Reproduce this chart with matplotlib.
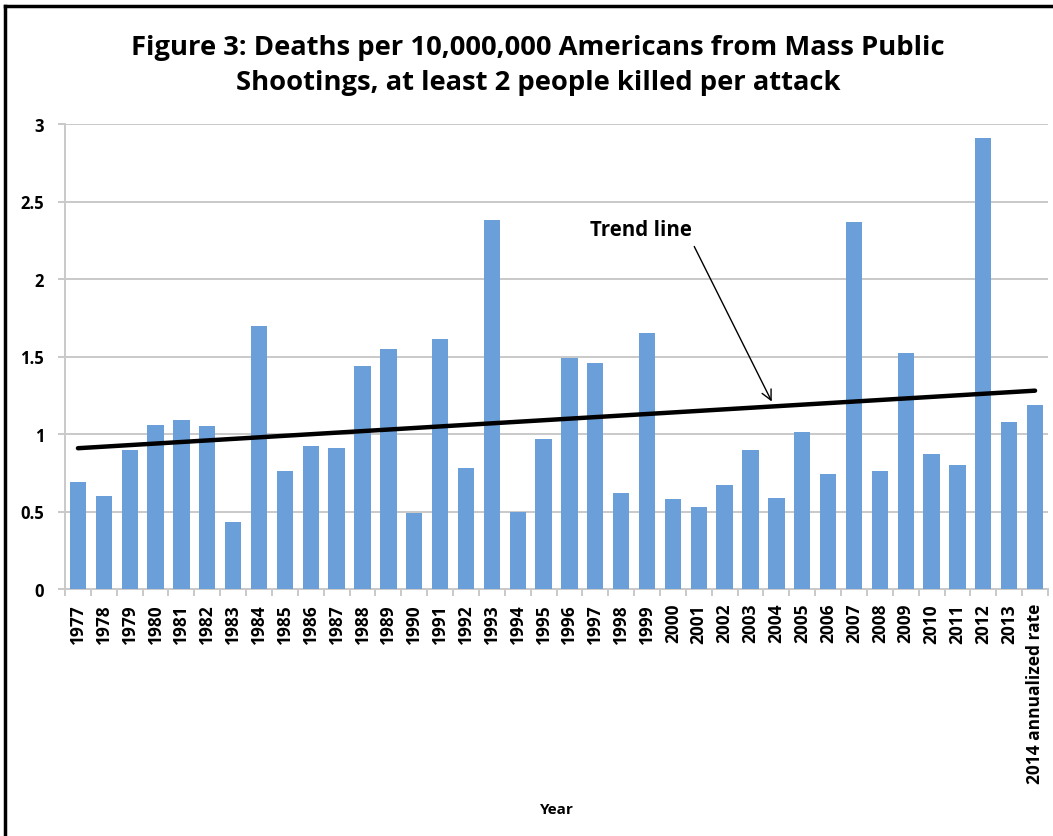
import matplotlib
matplotlib.use("Agg")
import matplotlib.pyplot as plt
import numpy as np
from matplotlib.lines import Line2D

categories = [str(y) for y in range(1977, 2014)] + ["2014 annualized rate"]
values = [0.69, 0.60, 0.90, 1.06, 1.09, 1.05, 0.43, 1.70, 0.76, 0.92,
          0.91, 1.44, 1.55, 0.49, 1.61, 0.78, 2.38, 0.50, 0.97, 1.49,
          1.46, 0.62, 1.65, 0.58, 0.53, 0.67, 0.90, 0.59, 1.01, 0.74,
          2.37, 0.76, 1.52, 0.87, 0.80, 2.91, 1.08, 1.19]
yticks = [0, 0.5, 1, 1.5, 2, 2.5, 3]
ytick_labels = ["0", "0.5", "1", "1.5", "2", "2.5", "3"]

plt.rcParams['font.family'] = ['Open Sans', 'DejaVu Sans']

fig = plt.figure(figsize=(10.53, 8.37), dpi=100)
ax = fig.add_axes([65/1053, 1-590/837, (1048-65)/1053, (590-125)/837])

x = np.arange(len(values))
ax.bar(x, values, width=0.63, color='#6A9FD9', zorder=3)

# linear trend line fitted to the data
coef = np.polyfit(x, values, 1)
xt = np.array([x[0], x[-1]])
ax.plot(xt, np.polyval(coef, xt), color='black', lw=3.2, solid_capstyle='round', zorder=4)

ax.set_xlim(-0.5, len(values) - 0.5)
ax.set_ylim(0, 3)
ax.set_yticks(yticks)
ax.set_yticklabels(ytick_labels, fontsize=12, fontweight='bold')
ax.yaxis.grid(True, color='#C9C9C9', lw=1.4, zorder=0)
ax.set_axisbelow(True)
ax.tick_params(axis='y', length=5, color='#C9C9C9', width=1.4, pad=10)

ax.set_xticks(x)
ax.set_xticklabels(categories, rotation=90, fontsize=12.5, fontweight='bold')
ax.tick_params(axis='x', length=0, pad=10)
ax.set_xticks(np.arange(-0.5, len(values)), minor=True)
ax.tick_params(axis='x', which='minor', length=5, color='#C9C9C9', width=1.4)

for s in ['top', 'right']:
    ax.spines[s].set_visible(False)
ax.spines['left'].set_color('#C9C9C9')
ax.spines['left'].set_linewidth(1.4)
ax.spines['bottom'].set_color('#C9C9C9')
ax.spines['bottom'].set_linewidth(1.4)

fig.text(538/1053, 1-48/837, "Figure 3: Deaths per 10,000,000 Americans from Mass Public",
         ha='center', va='center', fontsize=19.7, fontweight='bold')
fig.text(538/1053, 1-83/837, "Shootings, at least 2 people killed per attack",
         ha='center', va='center', fontsize=19.7, fontweight='bold')

fig.text(557/1053, 1-810/837, "Year", ha='center', va='center', fontsize=11, fontweight='bold')

# annotation
tx, ty = 641/1053, 1-230/837
ax_inv = ax.transData.inverted()
fig.text(tx, ty, "Trend line", ha='center', va='center', fontsize=14.8, fontweight='bold')
p0 = ax_inv.transform((693, 837-245))
p1 = ax_inv.transform((773, 837-405))
ax.annotate("", xy=p1, xytext=p0,
            arrowprops=dict(arrowstyle='->', color='black', lw=1.0, mutation_scale=18), zorder=5)

# frame border (top and left)
fig.add_artist(Line2D([5/1053, 5/1053], [0, 1-7/837], transform=fig.transFigure, color='black', lw=2.5))
fig.add_artist(Line2D([5/1053, 1], [1-7/837, 1-7/837], transform=fig.transFigure, color='black', lw=2.5))

fig.savefig("out.png", dpi=100)
